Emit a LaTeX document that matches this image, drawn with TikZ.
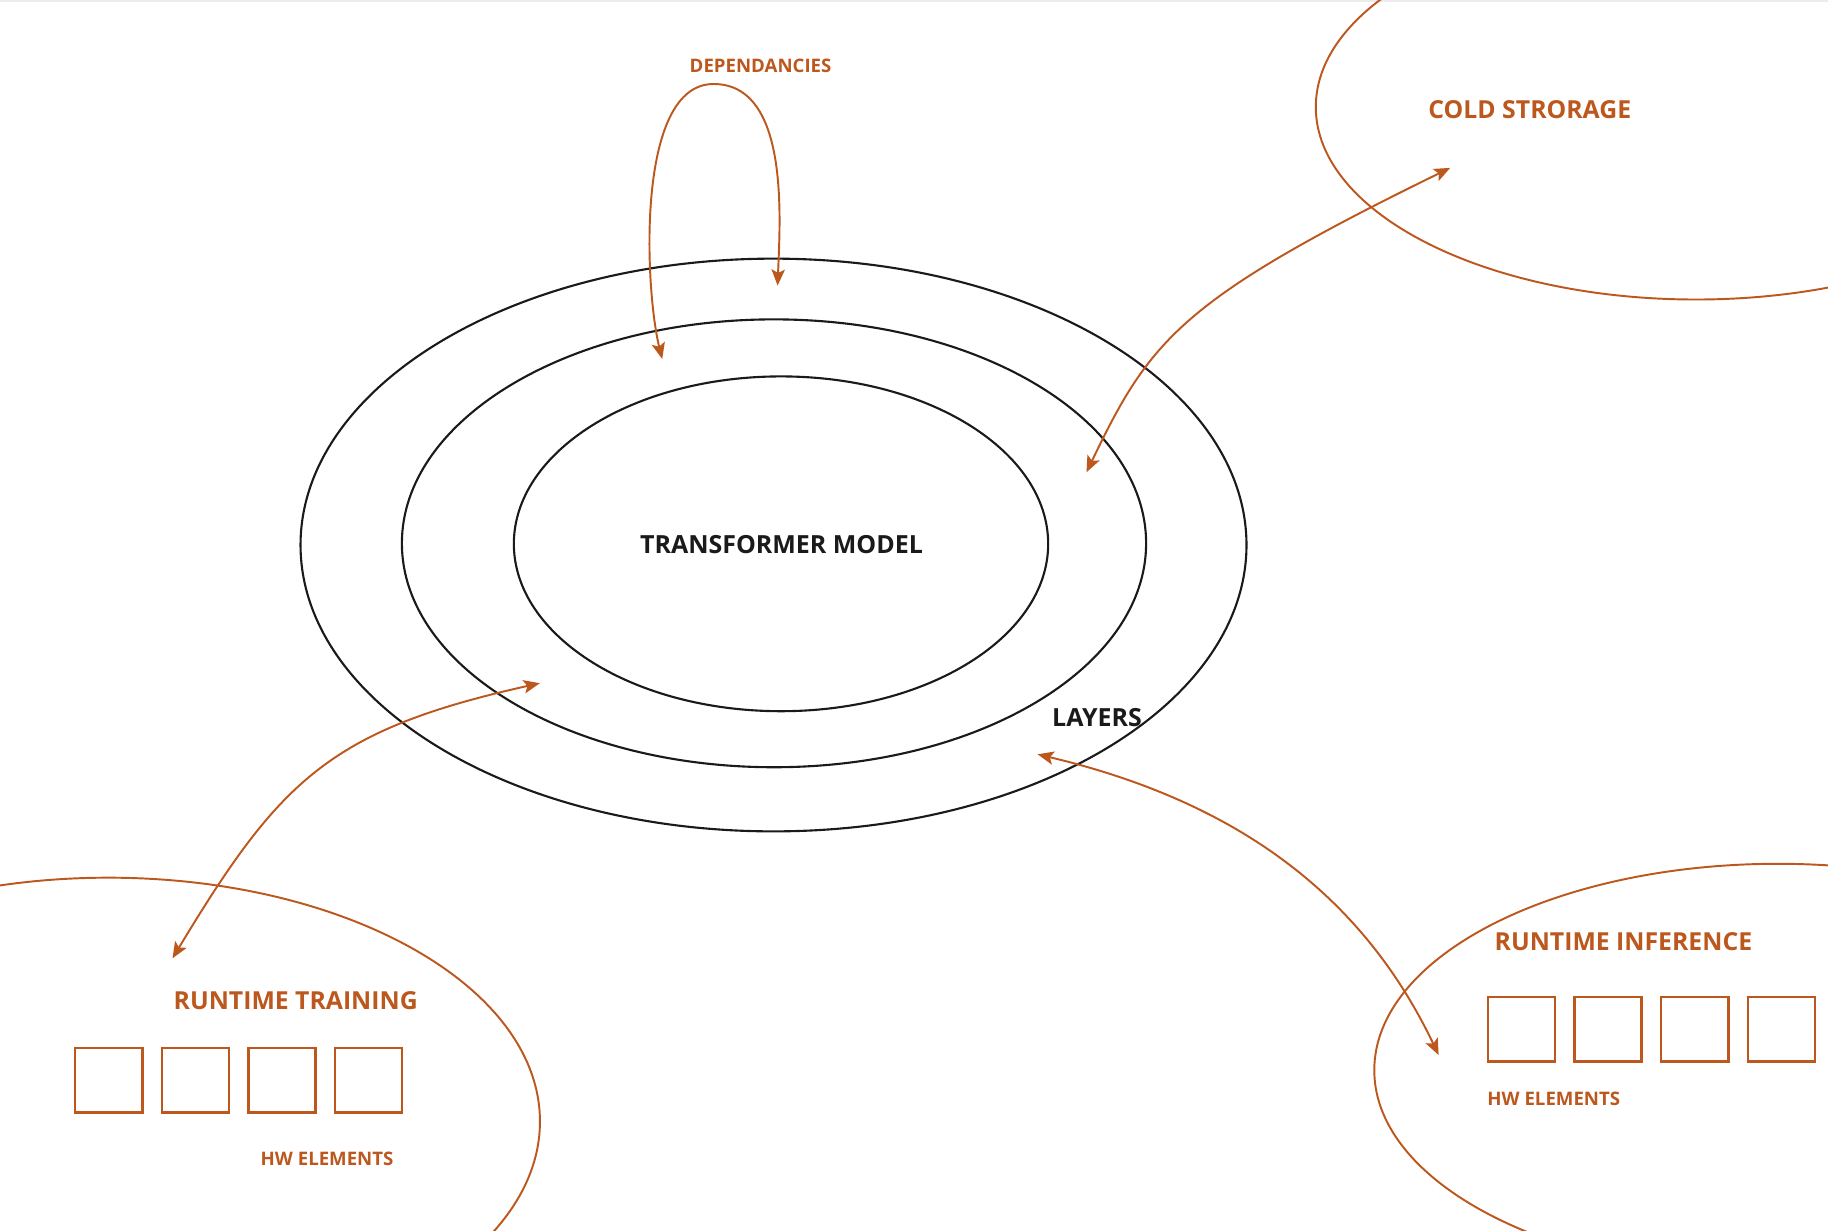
\documentclass[tikz,border=0pt]{standalone}
\usepackage{fontspec}
\setmainfont{Open Sans}
\usetikzlibrary{shapes.geometric,arrows.meta}
\definecolor{rust}{RGB}{188,88,30}
\definecolor{ink}{RGB}{26,26,26}
\tikzset{
  ring/.style={draw=ink, line width=0.6pt, ellipse, inner sep=0pt, outer sep=0pt},
  zone/.style={draw=rust, line width=0.55pt, ellipse, inner sep=0pt, outer sep=0pt},
  hwbox/.style={draw=rust, line width=0.7pt, minimum width=0.67cm, minimum height=0.64cm, inner sep=0pt, anchor=north west},
  conn/.style={draw=rust, line width=0.55pt, {Stealth[length=4.6pt,width=3.8pt,inset=1pt]}-{Stealth[length=4.6pt,width=3.8pt,inset=1pt]}},
  bigtitle/.style={text=rust, font=\bfseries\fontsize{7.05pt}{8pt}\selectfont, inner sep=0pt},
  smalltitle/.style={text=rust, font=\bfseries\fontsize{5.3pt}{6pt}\selectfont, inner sep=0pt},
  blacktitle/.style={text=ink, font=\bfseries\fontsize{7.1pt}{8pt}\selectfont, inner sep=0pt}
}
\begin{document}
\begin{tikzpicture}[x=0.01cm,y=-0.01cm]
\useasboundingbox (0,0) rectangle (1828,1230);
\clip (0,0) rectangle (1828,1230);
\fill[white] (0,0) rectangle (1828,1230);
\draw[gray!15, line width=0.6pt] (0,1) -- (1828,1);

% concentric rings
\node[ring, minimum width=9.454cm, minimum height=5.724cm] (outer) at (773.5,545) {};
\node[ring, minimum width=7.438cm, minimum height=4.476cm] (middle) at (774,543.3) {};
\node[ring, minimum width=5.34cm, minimum height=3.346cm] (inner) at (781,543.8) {};
\node[blacktitle] (model) at (781.5,545) {TRANSFORMER MODEL};
\node[blacktitle, anchor=west] (layers) at (1051.5,717.3) {LAYERS};

% outer zones
\node[zone, minimum width=7.6cm, minimum height=3.848cm] (cold) at (1696,107) {};
\node[zone, minimum width=8.626cm, minimum height=4.874cm] (train) at (108.4,1121.5) {};
\node[zone, minimum width=8.068cm, minimum height=4.126cm] (infer) at (1777.9,1070.2) {};

\node[bigtitle, anchor=west] (coldlbl) at (1427.7,109.3) {COLD STRORAGE};
\node[bigtitle, anchor=west] (trainlbl) at (173,1000.7) {RUNTIME TRAINING};
\node[bigtitle, anchor=west] (inferlbl) at (1494,941.7) {RUNTIME INFERENCE};
\node[smalltitle, anchor=west] (deplbl) at (689,66) {DEPENDANCIES};
\node[smalltitle, anchor=west] (trainhw) at (260,1159) {HW ELEMENTS};
\node[smalltitle, anchor=west] (inferhw) at (1486.7,1099.3) {HW ELEMENTS};

% hardware boxes
\node[hwbox] (t1) at (74,1047) {};
\node[hwbox] (t2) at (160.7,1047) {};
\node[hwbox] (t3) at (247.3,1047) {};
\node[hwbox] (t4) at (333.7,1047) {};
\node[hwbox] (i1) at (1486.7,996) {};
\node[hwbox] (i2) at (1573.3,996) {};
\node[hwbox] (i3) at (1660,996) {};
\node[hwbox] (i4) at (1746.7,996) {};

% connector end points
\coordinate (depA) at (662.2,359);
\coordinate (depTop) at (713.5,84);
\coordinate (depB) at (777.6,285.6);
\coordinate (coldA) at (1086.5,472.2);
\coordinate (coldB) at (1450.2,167.9);
\coordinate (trainA) at (539.8,683.2);
\coordinate (trainB) at (172.5,958.3);
\coordinate (inferA) at (1037.6,754.3);
\coordinate (inferB) at (1438.6,1055);

% connectors
\draw[conn] (depA) .. controls (645,290) and (635,84) .. (depTop) .. controls (790,84) and (780,220) .. (depB);
\draw[conn] (coldA) .. controls (1150,340) and (1180,300) .. (coldB);
\draw[conn] (trainA) .. controls (330,730) and (280,780) .. (trainB);
\draw[conn] (inferA) .. controls (1230,800) and (1360,890) .. (inferB);
\end{tikzpicture}
\end{document}
